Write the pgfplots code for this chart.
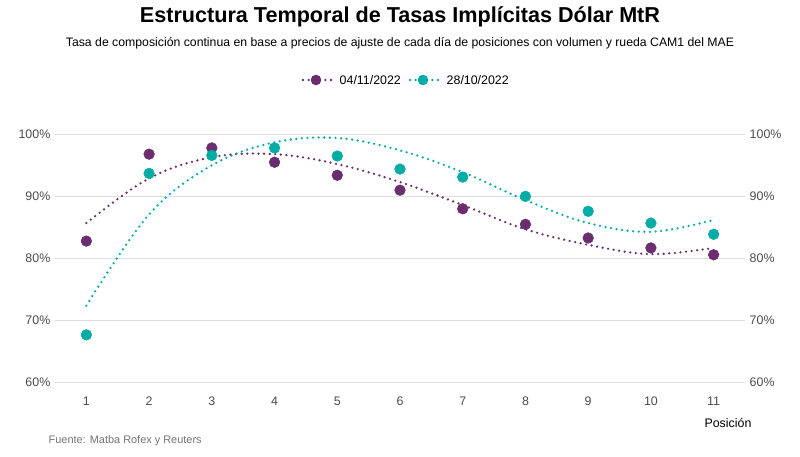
\documentclass[border=0pt]{standalone}
\usepackage{pgfplots}
\pgfplotsset{compat=1.18}
\usepackage{fontspec}
\setmainfont{Liberation Sans}
\definecolor{pur}{HTML}{6A2E6E}
\definecolor{tea}{HTML}{00ADA5}
\definecolor{gr}{HTML}{DDDDDD}
\tikzset{dots/.style={line width=1.9pt, line cap=round, dash pattern=on 0pt off 4.2pt}}
\begin{document}
\begin{tikzpicture}[x=0.75pt,y=0.75pt]
\path (0,0) rectangle (800,457);
\pgfplotsset{base/.style={scale only axis, width=517.5pt, height=204pt,
  at={(41.25pt,48.75pt)}, anchor=south west,
  xmin=0.5, xmax=11.5, ymin=58.5, ymax=102.3,
  axis line style={draw=none}, tick style={draw=none},
  ytick={60,70,80,90,100}, yticklabel={\pgfmathprintnumber{\tick}\%},
  ticklabel style={font=\fontsize{9.3}{10}\selectfont, text=black!70},
  /pgf/number format/assume math mode=true}}
\begin{axis}[base, yticklabel pos=right, xtick=\empty, ymajorgrids=false]
\end{axis}
\begin{axis}[base, xtick={1,...,11}, ymajorgrids, grid style={gr, line width=0.6pt}]
\addplot[pur, dots, smooth, tension=0.6] coordinates {
(1,85.7)(2,92.9)(3,96.3)(4,96.8)(5,95.2)(6,92.3)(7,88.6)(8,84.7)(9,82.2)(10,80.7)(11,81.7)};
\addplot[tea, dots, smooth, tension=0.6] coordinates {
(1,72.4)(2,87.1)(3,95.0)(4,98.7)(5,99.4)(6,97.4)(7,93.9)(8,89.4)(9,85.7)(10,84.3)(11,86.2)};
\addplot[only marks, mark=*, mark size=4pt, pur] coordinates {
(1,82.8)(2,96.8)(3,97.8)(4,95.5)(5,93.4)(6,91.0)(7,88.0)(8,85.5)(9,83.3)(10,81.7)(11,80.6)};
\addplot[only marks, mark=*, mark size=4pt, tea] coordinates {
(1,67.7)(2,93.7)(3,96.6)(4,97.8)(5,96.5)(6,94.4)(7,93.1)(8,90.0)(9,87.6)(10,85.7)(11,83.9)};
\end{axis}
\node at (400,440) {\fontsize{16.2}{18}\selectfont\bfseries Estructura Temporal de Tasas Implícitas Dólar MtR};
\node at (400,414) {\fontsize{9.2}{10}\selectfont Tasa de composición continua en base a precios de ajuste de cada día de posiciones con volumen y rueda CAM1 del MAE};
\draw[pur, dots] (303,377)--(331,377);
\fill[pur] (316,377) circle (5.3);
\node[anchor=west] at (335,377) {\fontsize{9.3}{10}\selectfont 04/11/2022};
\draw[tea, dots] (410,377)--(438,377);
\fill[tea] (423,377) circle (5.3);
\node[anchor=west] at (442,377) {\fontsize{9.3}{10}\selectfont 28/10/2022};
\node at (728,34) {\fontsize{9.3}{10}\selectfont Posición};
\node[anchor=west, text=black!55] at (44,16) {\fontsize{8.2}{9}\selectfont Fuente: Matba Rofex y Reuters};
\end{tikzpicture}
\end{document}
